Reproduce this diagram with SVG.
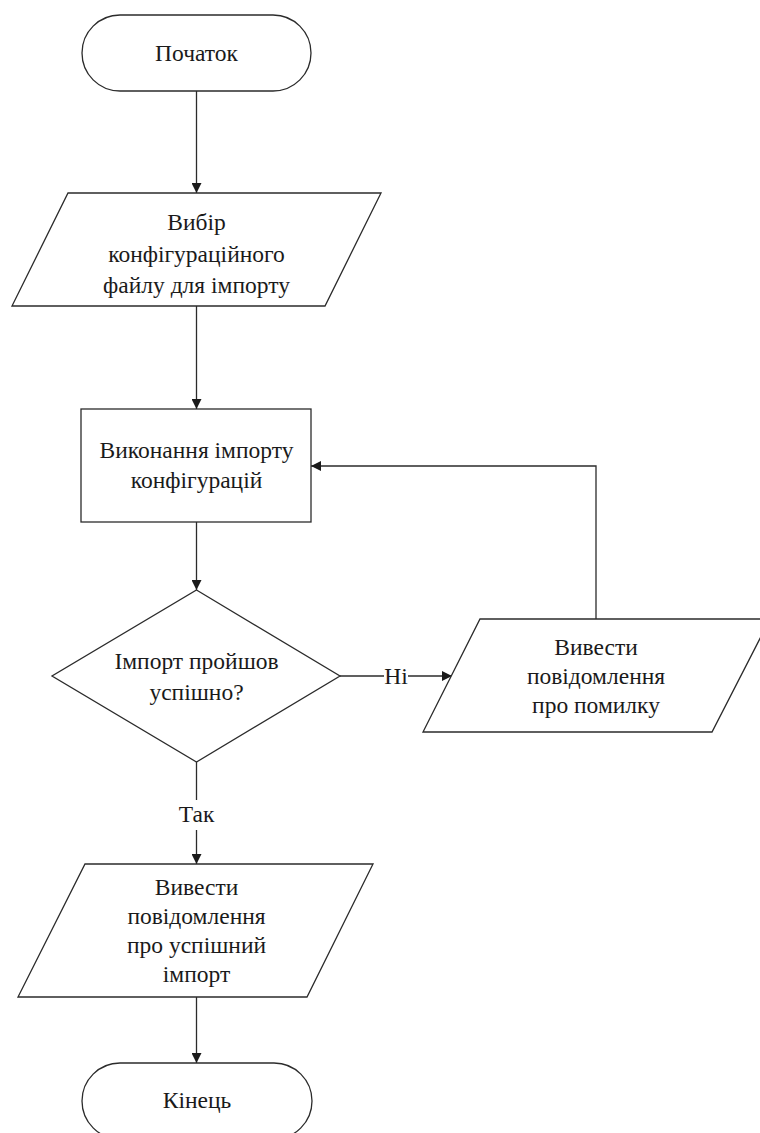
<svg xmlns="http://www.w3.org/2000/svg" width="760" height="1133" viewBox="0 0 760 1133">
  <style>
    .shape { fill: #ffffff; stroke: #2b2b2b; stroke-width: 1.3; }
    .edge { fill: none; stroke: #2b2b2b; stroke-width: 1.3; }
    .txt { fill: #1a1a1a; stroke: none; text-anchor: middle; font-size: 23.5px; font-family: 'Liberation Serif', Tinos, 'Times New Roman', 'DejaVu Serif', serif; }
  </style>
  <defs>
    <marker id="arrow" viewBox="0 0 10 10" refX="10" refY="5" markerWidth="10" markerHeight="10" markerUnits="userSpaceOnUse" orient="auto">
      <path d="M0,0 L10,5 L0,10 Z" fill="#1a1a1a"/>
    </marker>
  </defs>
  <rect width="760" height="1133" fill="#ffffff"/>

  <g id="connectors">
    <line class="edge" x1="196.5" y1="91" x2="196.5" y2="193" marker-end="url(#arrow)"/>
    <line class="edge" x1="196.5" y1="306" x2="196.5" y2="409" marker-end="url(#arrow)"/>
    <line class="edge" x1="196.5" y1="522" x2="196.5" y2="590" marker-end="url(#arrow)"/>
    <!-- "No" branch -->
    <line class="edge" x1="340" y1="676" x2="384" y2="676"/>
    <line class="edge" x1="408" y1="676" x2="452" y2="676" marker-end="url(#arrow)"/>
    <text class="txt" x="396" y="684" font-family="Liberation Serif, Tinos, Times New Roman, DejaVu Serif, serif">Ні</text>
    <!-- loop back to the import step -->
    <polyline class="edge" points="596,619 596,466 311,466" marker-end="url(#arrow)"/>
    <!-- "Yes" branch -->
    <line class="edge" x1="196.5" y1="762" x2="196.5" y2="800"/>
    <line class="edge" x1="196.5" y1="830" x2="196.5" y2="864" marker-end="url(#arrow)"/>
    <text class="txt" x="196.5" y="822" font-family="Liberation Serif, Tinos, Times New Roman, DejaVu Serif, serif">Так</text>
    <line class="edge" x1="196.5" y1="997" x2="196.5" y2="1063" marker-end="url(#arrow)"/>
  </g>

  <g id="start">
    <rect class="shape" x="82" y="15" width="229" height="76" rx="38" ry="38"/>
    <text class="txt" x="196.5" y="61" font-family="Liberation Serif, Tinos, Times New Roman, DejaVu Serif, serif">Початок</text>
  </g>

  <g id="choose-file">
    <polygon class="shape" points="68,193 381,193 325,306 12,306"/>
    <text class="txt" x="196.5" y="230" font-family="Liberation Serif, Tinos, Times New Roman, DejaVu Serif, serif">Вибір</text>
    <text class="txt" x="196.5" y="262" font-family="Liberation Serif, Tinos, Times New Roman, DejaVu Serif, serif">конфігураційного</text>
    <text class="txt" x="196.5" y="293" font-family="Liberation Serif, Tinos, Times New Roman, DejaVu Serif, serif">файлу для імпорту</text>
  </g>

  <g id="run-import">
    <rect class="shape" x="81" y="409" width="230" height="113"/>
    <text class="txt" x="196.5" y="458" font-family="Liberation Serif, Tinos, Times New Roman, DejaVu Serif, serif">Виконання імпорту</text>
    <text class="txt" x="196.5" y="488" font-family="Liberation Serif, Tinos, Times New Roman, DejaVu Serif, serif">конфігурацій</text>
  </g>

  <g id="check-result">
    <polygon class="shape" points="196.5,590 340,676 196.5,762 52,676"/>
    <text class="txt" x="196.5" y="669" font-family="Liberation Serif, Tinos, Times New Roman, DejaVu Serif, serif">Імпорт пройшов</text>
    <text class="txt" x="196.5" y="700" font-family="Liberation Serif, Tinos, Times New Roman, DejaVu Serif, serif">успішно?</text>
  </g>

  <g id="error-message">
    <polygon class="shape" points="480,619 770,619 712,732 423,732"/>
    <text class="txt" x="596" y="655" font-family="Liberation Serif, Tinos, Times New Roman, DejaVu Serif, serif">Вивести</text>
    <text class="txt" x="596" y="684" font-family="Liberation Serif, Tinos, Times New Roman, DejaVu Serif, serif">повідомлення</text>
    <text class="txt" x="596" y="713" font-family="Liberation Serif, Tinos, Times New Roman, DejaVu Serif, serif">про помилку</text>
  </g>

  <g id="success-message">
    <polygon class="shape" points="85,864 373,864 307,997 18,997"/>
    <text class="txt" x="196.5" y="895" font-family="Liberation Serif, Tinos, Times New Roman, DejaVu Serif, serif">Вивести</text>
    <text class="txt" x="196.5" y="924" font-family="Liberation Serif, Tinos, Times New Roman, DejaVu Serif, serif">повідомлення</text>
    <text class="txt" x="196.5" y="953" font-family="Liberation Serif, Tinos, Times New Roman, DejaVu Serif, serif">про успішний</text>
    <text class="txt" x="196.5" y="982" font-family="Liberation Serif, Tinos, Times New Roman, DejaVu Serif, serif">імпорт</text>
  </g>

  <g id="end">
    <rect class="shape" x="82" y="1063" width="230" height="76" rx="38" ry="38"/>
    <text class="txt" x="197" y="1108" font-family="Liberation Serif, Tinos, Times New Roman, DejaVu Serif, serif">Кінець</text>
  </g>
</svg>
